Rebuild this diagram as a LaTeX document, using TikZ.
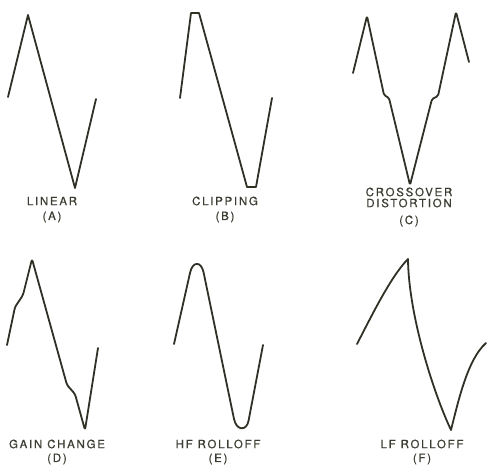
\documentclass[tikz,border=0pt]{standalone}
\usepackage{fontspec}
\usepackage{tikz}
\usetikzlibrary{positioning}
\definecolor{ink}{RGB}{48,48,38}
\definecolor{labelgray}{RGB}{60,60,50}
\newfontfamily\capfont[LetterSpace=15, FakeBold=0.5]{TeX Gyre Heros}

\begin{document}
\begin{tikzpicture}[x=1pt, y=-1pt,
    wave/.style={draw=ink, line width=1.8pt, line join=round, line cap=round},
    caption/.style={font=\capfont\fontsize{11.5}{12}\selectfont, text=labelgray, inner sep=0pt}]
    \useasboundingbox (0,0) rectangle (487,467);

    % Panel A: linear
    \begin{scope}
        \draw[wave] (8,97) -- (28,15) -- (75,188) -- (96,99);
        \node[caption] (linear) at (52,201) {LINEAR};
        \node[caption] (tagA) at (52,217) {(A)};
    \end{scope}

    % Panel B: clipping
    \begin{scope}[shift={(163,0)}]
        \draw[wave] (17,98) -- (28,13) -- (36,13) -- (84,187) -- (93,187) -- (109,98);
        \node[caption] (clipping) at (62,201) {CLIPPING};
        \node[caption] (tagB) at (62,217) {(B)};
    \end{scope}

    % Panel C: crossover distortion
    \begin{scope}[shift={(326,0)}]
        \draw[wave, rounded corners=1.5pt] (27,73) -- (41,16) -- (58,95) -- (63,98) -- (84,185)
            -- (106,99) -- (112,96) -- (130,12) -- (143,62);
        \node[caption] (crossover) at (83,192) {CROSSOVER};
        \node[caption] (distortion) at (83,203) {DISTORTION};
        \node[caption] (tagC) at (83,221) {(C)};
    \end{scope}

    % Panel D: gain change
    \begin{scope}[shift={(0,237)}]
        \draw[wave, rounded corners=2.5pt] (7,108) -- (15,70) -- (23,58) -- (32,22) -- (67,148)
            -- (75,157) -- (85,193) -- (98,111);
        \node[caption] (gain) at (57,207) {GAIN CHANGE};
        \node[caption] (tagD) at (57,222) {(D)};
    \end{scope}

    % Panel E: HF rolloff (rounded tips)
    \begin{scope}[shift={(163,237)}]
        \draw[wave] (11,107) -- (27,36) .. controls (29.5,24) and (38,24) .. (40.5,35)
            -- (71,182) .. controls (73.5,194) and (83.5,194) .. (85.5,184) -- (100,108);
        \node[caption] (hfroll) at (55,207) {HF ROLLOFF};
        \node[caption] (tagE) at (55,222) {(E)};
    \end{scope}

    % Panel F: LF rolloff (tilted ramps)
    \begin{scope}[shift={(326,237)}]
        \draw[wave] (31,107) .. controls (45,80) and (65,39) .. (82,22)
            .. controls (82.5,77) and (107,155) .. (125,193)
            .. controls (133,161) and (142,122) .. (160,106);
        \node[caption] (lfroll) at (96,207) {LF ROLLOFF};
        \node[caption] (tagF) at (96,222) {(F)};
    \end{scope}
\end{tikzpicture}
\end{document}
